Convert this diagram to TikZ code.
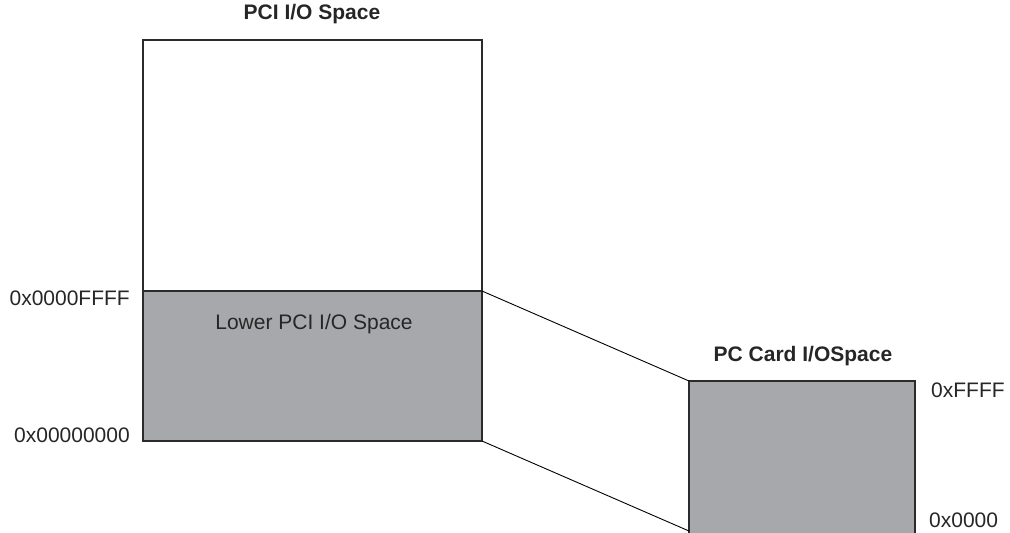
\documentclass[tikz,border=0pt]{standalone}
\usepackage{fontspec}
\setmainfont{Liberation Sans}
\definecolor{boxgray}{HTML}{A7A8AB}
\definecolor{edge}{HTML}{2B2B2B}
\begin{document}
\begin{tikzpicture}[x=1pt,y=-1pt,
  region/.style={draw=edge,line width=1.3pt},
  shaded/.style={region,fill=boxgray},
  lbl/.style={inner sep=0pt,font=\fontsize{21}{23}\selectfont,text=black!85},
  ttl/.style={inner sep=0pt,font=\fontsize{21}{23}\selectfont\bfseries,text=black!85},
  link/.style={draw=black,line width=0.9pt}]
\useasboundingbox (0,0) rectangle (1010,533);
% big PCI I/O space
\draw[region,fill=white] (143,40) rectangle (482,291);
\draw[shaded] (143,291) rectangle (482,441);
\coordinate (bigTR) at (482,291);
\coordinate (bigBR) at (482,441);
% small PC Card space
\draw[shaded] (689,381) rectangle (915,540);
\coordinate (smTL) at (689,381);
\coordinate (smBL) at (689,531);
% connectors
\draw[link] (bigTR) -- (smTL);
\draw[link] (bigBR) -- (smBL);
% labels
\node[ttl] (t1) at (312,14) {PCI I/O Space};
\node[lbl] (t2) at (314,324) {Lower PCI I/O Space};
\node[ttl] (t3) at (803,356) {PC Card I/OSpace};
\node[lbl,anchor=east] (a1) at (130,298) {0x0000FFFF};
\node[lbl,anchor=east] (a2) at (130,435) {0x00000000};
\node[lbl,anchor=west] (a3) at (931,390) {0xFFFF};
\node[lbl,anchor=west] (a4) at (929,520) {0x0000};
\end{tikzpicture}
\end{document}
